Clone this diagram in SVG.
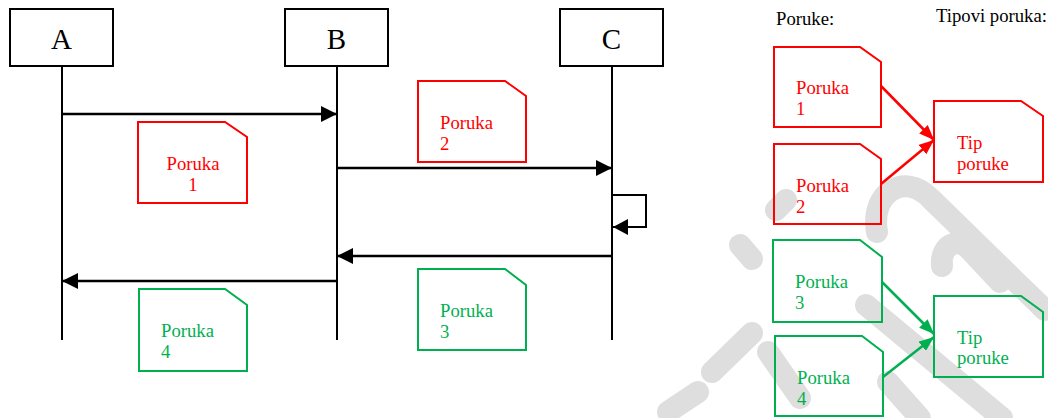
<svg xmlns="http://www.w3.org/2000/svg" width="1048" height="418" viewBox="0 0 1048 418">
<style>
.wm{fill:none;stroke:#dedede;stroke-width:22;stroke-linecap:round;stroke-linejoin:round}
.actor{fill:#fff;stroke:#000;stroke-width:2}
.alabel{font-size:29px;fill:#000;text-anchor:middle}
.life{stroke:#000;stroke-width:2;fill:none}
.msg{stroke:#000;stroke-width:2.5;fill:none}
.note-r{fill:none;stroke:#ff0000;stroke-width:2}
.note-g{fill:none;stroke:#00b050;stroke-width:2}
.tr{font-size:18.7px;fill:#ff0000}
.tg{font-size:18.7px;fill:#00b050}
.tk{font-size:18.7px;fill:#000}
.lr{stroke:#ff0000;stroke-width:2.5;fill:none}
.lg{stroke:#00b050;stroke-width:2.5;fill:none}
</style>
<defs>
<marker id="ab" markerUnits="userSpaceOnUse" markerWidth="16" markerHeight="16" refX="16" refY="8" orient="auto"><path d="M0,0 L16,8 L0,16 z" fill="#000"/></marker>
<marker id="abs" markerUnits="userSpaceOnUse" markerWidth="15" markerHeight="16" refX="15" refY="8" orient="auto"><path d="M0,0 L15,8 L0,16 z" fill="#000"/></marker>
<marker id="ar" markerUnits="userSpaceOnUse" markerWidth="15" markerHeight="12" refX="15" refY="6" orient="auto"><path d="M0,0 L15,6 L0,12 z" fill="#ff0000"/></marker>
<marker id="ag" markerUnits="userSpaceOnUse" markerWidth="15" markerHeight="12" refX="15" refY="6" orient="auto"><path d="M0,0 L15,6 L0,12 z" fill="#00b050"/></marker>
</defs>
<g id="watermark">
<path class="wm" d="M740,245 L752,259"/>
<path class="wm" d="M776,210 L786,200"/>
<path class="wm" d="M877,232 C870,192 905,172 930,198 L1045,310"/>
<path class="wm" d="M942,266 C940,245 958,236 970,250 L1000,282"/>
<path class="wm" d="M866,305 L1002,418"/>
<path class="wm" d="M888,382 L920,418"/>
<path class="wm" d="M712,372 L752,333"/>
<path class="wm" d="M768,352 L800,398"/>
<path class="wm" d="M668,412 L698,392"/>
</g>
<g font-family="'Liberation Serif','Times New Roman',serif">
<g id="A"><rect class="actor" x="10" y="9" width="103" height="57"/><text class="alabel" x="61.5" y="49">A</text></g>
<g id="B"><rect class="actor" x="285" y="9" width="103" height="57"/><text class="alabel" x="336.5" y="49">B</text></g>
<g id="C"><rect class="actor" x="560" y="9" width="103" height="57"/><text class="alabel" x="611.5" y="49">C</text></g>
<g id="connectors">
<line class="life" x1="62" y1="66" x2="62" y2="340"/>
<line class="life" x1="337" y1="66" x2="337" y2="340"/>
<line class="life" x1="612" y1="66" x2="612" y2="340"/>
<line class="msg" x1="62" y1="114" x2="337" y2="114" marker-end="url(#ab)"/>
<line class="msg" x1="337" y1="168" x2="612" y2="168" marker-end="url(#ab)"/>
<path class="life" d="M612,195 L646,195 L646,227 L613,227" marker-end="url(#abs)"/>
<line class="msg" x1="612" y1="256" x2="337" y2="256" marker-end="url(#ab)"/>
<line class="msg" x1="337" y1="281" x2="62" y2="281" marker-end="url(#ab)"/>
<line class="lr" x1="881" y1="86" x2="934" y2="140" marker-end="url(#ar)"/>
<line class="lr" x1="881" y1="184" x2="934" y2="140" marker-end="url(#ar)"/>
<line class="lg" x1="882" y1="282" x2="934" y2="334" marker-end="url(#ag)"/>
<line class="lg" x1="883" y1="377" x2="934" y2="337" marker-end="url(#ag)"/>
</g>
<g id="note1"><path class="note-r" d="M138,122 L225,122 L247,137 L247,203 L138,203 z"/><text class="tr" x="193" y="170" text-anchor="middle">Poruka</text><text class="tr" x="193" y="191" text-anchor="middle">1</text></g>
<g id="note2"><path class="note-r" d="M418,81 L505,81 L526,96 L526,162 L418,162 z"/><text class="tr" x="440" y="129">Poruka</text><text class="tr" x="440" y="150">2</text></g>
<g id="note3"><path class="note-g" d="M418,269 L505,269 L526,285 L526,350 L418,350 z"/><text class="tg" x="440" y="317">Poruka</text><text class="tg" x="440" y="338">3</text></g>
<g id="note4"><path class="note-g" d="M139,289 L225,289 L247,305 L247,371 L139,371 z"/><text class="tg" x="161" y="337">Poruka</text><text class="tg" x="161" y="358">4</text></g>
<g id="legend-titles"><text class="tk" x="776" y="25">Poruke:</text><text class="tk" x="936" y="22">Tipovi poruka:</text></g>
<g id="p1"><path class="note-r" d="M774,47 L860,47 L881,62 L881,127 L774,127 z"/><text class="tr" x="796" y="94">Poruka</text><text class="tr" x="796" y="115">1</text></g>
<g id="p2"><path class="note-r" d="M774,144 L860,144 L881,159 L881,224 L774,224 z"/><text class="tr" x="796" y="192">Poruka</text><text class="tr" x="796" y="213">2</text></g>
<g id="tip1"><path class="note-r" d="M934,101 L1021,101 L1043,116 L1043,182 L934,182 z"/><text class="tr" x="957" y="149">Tip</text><text class="tr" x="957" y="170">poruke</text></g>
<g id="p3"><path class="note-g" d="M773,240 L860,240 L882,257 L882,322 L773,322 z"/><text class="tg" x="795" y="288">Poruka</text><text class="tg" x="795" y="309">3</text></g>
<g id="p4"><path class="note-g" d="M775,336 L862,336 L883,352 L883,416 L775,416 z"/><text class="tg" x="797" y="384">Poruka</text><text class="tg" x="797" y="405">4</text></g>
<g id="tip2"><path class="note-g" d="M934,296 L1021,296 L1043,312 L1043,377 L934,377 z"/><text class="tg" x="957" y="344">Tip</text><text class="tg" x="957" y="364">poruke</text></g>
</g>
</svg>
